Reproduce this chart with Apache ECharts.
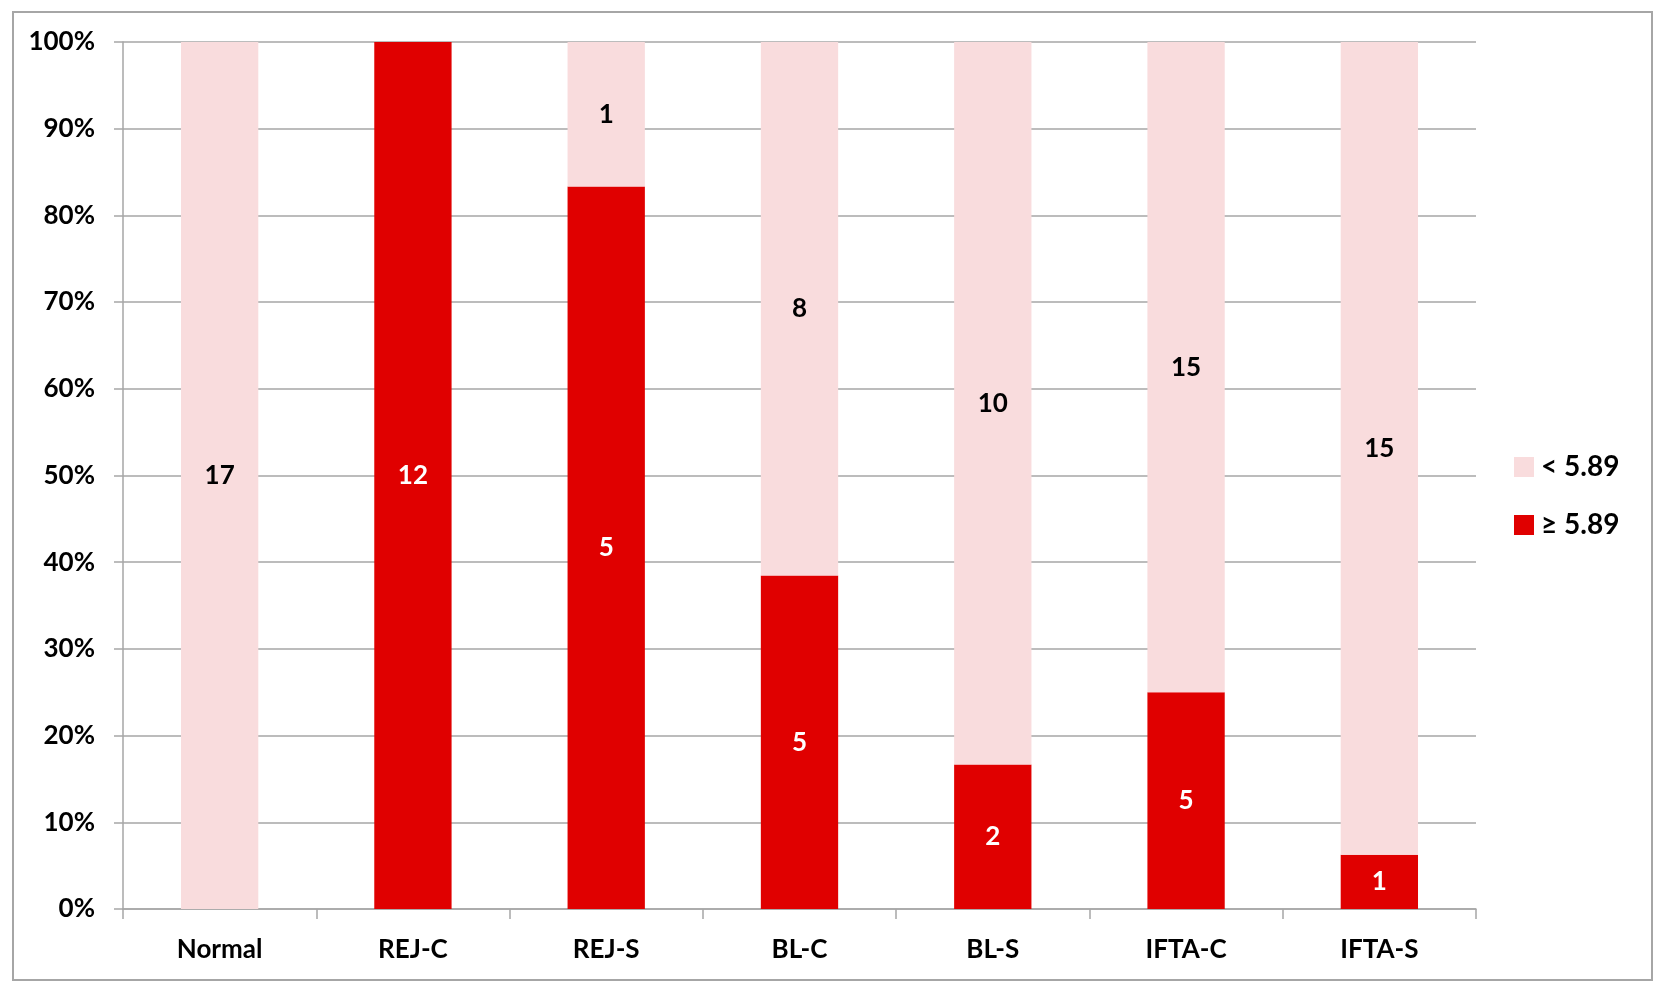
<!DOCTYPE html>
<html>
<head>
<meta charset="utf-8">
<script src="https://cdn.jsdelivr.net/npm/echarts@6/dist/echarts.min.js"></script>
<style>
  html, body { margin: 0; padding: 0; background: #fff; }
  #chart { width: 1661px; height: 995px; }
</style>
</head>
<body>
<div id="chart"></div>
<script>
// categories and counts per group
var categories = ['Normal', 'REJ-C', 'REJ-S', 'BL-C', 'BL-S', 'IFTA-C', 'IFTA-S'];
var countHigh = [0, 12, 5, 5, 2, 5, 1];     // >= 5.89
var countLow = [17, 0, 1, 8, 10, 15, 15];   // < 5.89
var yTicks = [0, 10, 20, 30, 40, 50, 60, 70, 80, 90, 100];

// 100% stacked: share of each group
var pctHigh = countHigh.map(function (v, i) { return v / (v + countLow[i]) * 100; });
var pctLow = countLow.map(function (v, i) { return v / (v + countHigh[i]) * 100; });

var font = 'Lato, "Open Sans", sans-serif';
var gray = '#a6a6a6';

var chart = echarts.init(document.getElementById('chart'));

function labelFor(counts, color) {
  return {
    show: true,
    position: 'inside',
    color: color,
    fontFamily: font,
    fontWeight: 'bold',
    fontSize: 26,
    formatter: function (p) {
      var n = counts[p.dataIndex];
      return n ? String(n) : '';
    }
  };
}

chart.setOption({
  animation: false,
  graphic: [{
    type: 'rect',
    shape: { x: 13, y: 12, width: 1639, height: 968 },
    style: { fill: 'none', stroke: gray, lineWidth: 2 },
    silent: true
  }],
  grid: { left: 123, right: 185, top: 42, bottom: 86 },
  legend: {
    orient: 'vertical',
    left: 1514,
    top: 453,
    padding: 0,
    itemWidth: 20,
    itemHeight: 20,
    itemGap: 30,
    icon: 'rect',
    data: ['< 5.89', '≥ 5.89'],
    textStyle: { fontFamily: font, fontWeight: 'bold', fontSize: 28, color: '#000', padding: [0, 0, 0, 2] }
  },
  xAxis: {
    type: 'category',
    data: categories,
    axisLine: { lineStyle: { color: gray, width: 1.5 } },
    axisTick: { show: true, length: 10, lineStyle: { color: gray, width: 1.5 } },
    axisLabel: { margin: 28, color: '#000', fontFamily: font, fontWeight: 'bold', fontSize: 26 }
  },
  yAxis: {
    type: 'value',
    min: yTicks[0],
    max: yTicks[yTicks.length - 1],
    interval: yTicks[1] - yTicks[0],
    axisLine: { show: true, lineStyle: { color: gray, width: 1.5 } },
    axisTick: { show: true, length: 9, lineStyle: { color: gray, width: 1.5 } },
    splitLine: { lineStyle: { color: gray, width: 1.5 } },
    axisLabel: {
      margin: 28, color: '#000', fontFamily: font, fontWeight: 'bold', fontSize: 26,
      formatter: '{value}%'
    }
  },
  series: [
    {
      name: '≥ 5.89',
      type: 'bar',
      stack: 'total',
      barWidth: '40%',
      data: pctHigh,
      itemStyle: { color: '#e00000' },
      label: labelFor(countHigh, '#fff')
    },
    {
      name: '< 5.89',
      type: 'bar',
      stack: 'total',
      barWidth: '40%',
      data: pctLow,
      itemStyle: { color: '#f9dcdd' },
      label: labelFor(countLow, '#000')
    }
  ]
});
</script>
</body>
</html>
